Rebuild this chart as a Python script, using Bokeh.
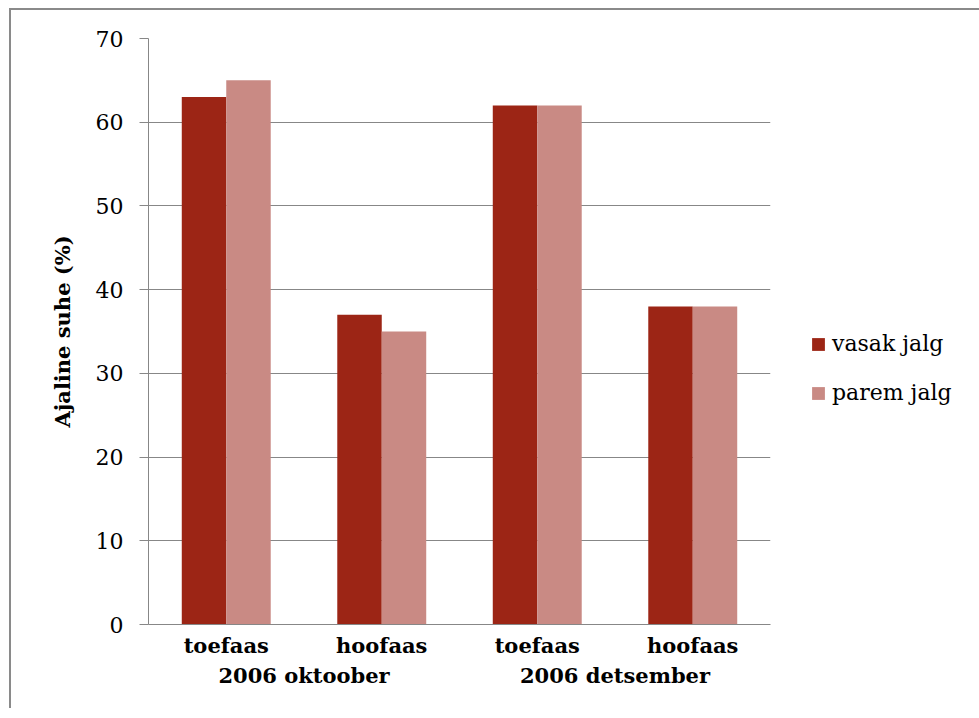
from bokeh.plotting import figure
from bokeh.models import ColumnDataSource, FactorRange, FixedTicker, Legend, LegendItem
from bokeh.transform import dodge
from bokeh.embed import file_html
from bokeh.resources import INLINE

# Data
months = ["2006 oktoober", "2006 oktoober", "2006 detsember", "2006 detsember"]
phases = ["toefaas", "hoofaas", "toefaas", "hoofaas"]
vasak_jalg = [63, 37, 62, 38]
parem_jalg = [65, 35, 62, 38]
series_names = ["vasak jalg", "parem jalg"]
y_ticks = [0, 10, 20, 30, 40, 50, 60, 70]

DARK = "#9c2515"
LIGHT = "#c98a84"
GRID = "#878787"
FONT = "DejaVu Serif"

factors = list(zip(months, phases))
source = ColumnDataSource(data=dict(x=factors, vasak=vasak_jalg, parem=parem_jalg))

p = figure(
    x_range=FactorRange(*factors, group_padding=0, factor_padding=0, range_padding=0),
    y_range=(0, 70),
    frame_width=622, frame_height=586,
    min_border_left=137, min_border_top=28, min_border_right=10, min_border_bottom=84,
    output_backend="svg", toolbar_location=None,
)
p.styles = {
    "margin-left": "9px", "margin-top": "8px",
    "border-left": "2px solid #8a8a8a", "border-top": "2px solid #8a8a8a",
}

bw = 0.286
r1 = p.vbar(x=dodge("x", -bw / 2, range=p.x_range), top="vasak", width=bw,
            source=source, fill_color=DARK, line_color=None)
r2 = p.vbar(x=dodge("x", bw / 2, range=p.x_range), top="parem", width=bw,
            source=source, fill_color=LIGHT, line_color=None)

p.outline_line_color = None
p.xgrid.grid_line_color = None
p.ygrid.grid_line_color = GRID
p.ygrid.grid_line_width = 1

# y axis
p.yaxis.ticker = FixedTicker(ticks=y_ticks)
p.yaxis.axis_line_color = GRID
p.yaxis.major_tick_line_color = GRID
p.yaxis.major_tick_out = 9
p.yaxis.major_tick_in = 0
p.yaxis.minor_tick_line_color = None
p.yaxis.major_label_text_font = FONT
p.yaxis.major_label_text_font_size = "22px"
p.yaxis.major_label_text_color = "black"
p.yaxis.major_label_standoff = 16
p.yaxis.axis_label = "Ajaline suhe (%)"
p.yaxis.axis_label_text_font = FONT
p.yaxis.axis_label_text_font_size = "21px"
p.yaxis.axis_label_text_font_style = "bold"
p.yaxis.axis_label_text_color = "black"
p.yaxis.axis_label_standoff = 18

# x axis
p.xaxis.axis_line_color = GRID
p.xaxis.major_tick_line_color = None
p.xaxis.minor_tick_line_color = None
p.xaxis.major_label_text_font = FONT
p.xaxis.major_label_text_font_size = "21px"
p.xaxis.major_label_text_font_style = "bold"
p.xaxis.major_label_text_color = "black"
p.xaxis.major_label_standoff = 2
p.xaxis.group_text_font = FONT
p.xaxis.group_text_font_size = "21px"
p.xaxis.group_text_font_style = "bold"
p.xaxis.group_text_color = "black"
p.xaxis.separator_line_alpha = 0

legend = Legend(
    items=[LegendItem(label=series_names[0], renderers=[r1]),
           LegendItem(label=series_names[1], renderers=[r2])],
    location=(40, 219),
    glyph_width=16, glyph_height=16, label_height=16,
    label_text_font=FONT, label_text_font_size="22px", label_text_color="black",
    label_standoff=6, spacing=24, padding=0, margin=0,
    border_line_alpha=0, background_fill_alpha=0,
)
p.add_layout(legend, "right")

open("out.html", "w").write(file_html(p, INLINE))
